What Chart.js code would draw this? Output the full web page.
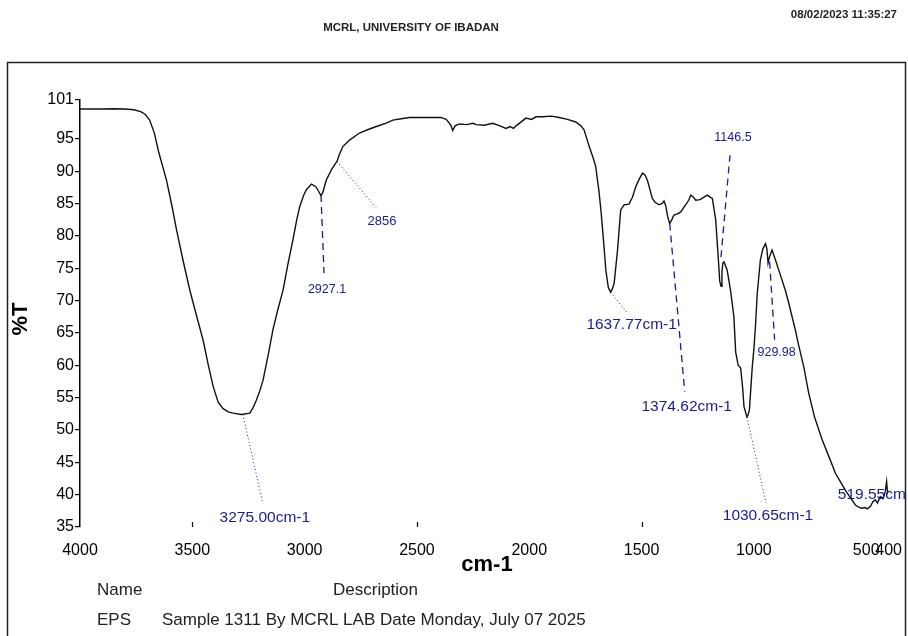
<!DOCTYPE html>
<html>
<head>
<meta charset="utf-8">
<script src="https://cdn.jsdelivr.net/npm/chart.js@4"></script>
<style>
  html, body { margin: 0; padding: 0; background: #fff; }
  canvas { display: block; }
</style>
</head>
<body>
<canvas id="irChart" width="908" height="636"></canvas>
<script>
// FTIR spectrum (wavenumber in cm-1, transmittance in %T)
var wavenumber = [
  4000, 3950, 3900, 3850, 3800, 3760, 3730, 3710, 3690, 3670, 3650, 3630, 3615, 3590, 3570,
  3540, 3511, 3480, 3452, 3430, 3407, 3385, 3363, 3340, 3319, 3281, 3244, 3230, 3215, 3200,
  3185, 3160, 3141, 3120, 3096, 3075, 3052, 3035, 3022, 3005, 2993, 2970, 2950, 2938, 2927,
  2918, 2904, 2881, 2866, 2856, 2845, 2830, 2800, 2756, 2720, 2681, 2640, 2607, 2570, 2533,
  2480, 2430, 2393, 2370, 2355, 2348, 2341, 2330, 2311, 2280, 2250, 2237, 2200, 2163, 2130,
  2104, 2085, 2070, 2059, 2040, 2015, 1990, 1970, 1941, 1900, 1867, 1830, 1793, 1770, 1756,
  1733, 1715, 1704, 1690, 1681, 1670, 1659, 1648, 1638, 1630, 1622, 1607, 1593, 1578, 1556,
  1540, 1526, 1510, 1496, 1485, 1474, 1460, 1452, 1440, 1422, 1408, 1400, 1392, 1384, 1375,
  1368, 1356, 1340, 1326, 1304, 1290, 1281, 1270, 1259, 1240, 1222, 1207, 1195, 1185, 1170,
  1158, 1152, 1146, 1142, 1138, 1133, 1119, 1104, 1089, 1081, 1075, 1070, 1059, 1050, 1044,
  1031, 1026, 1020, 1007, 1000, 993, 985, 971, 960, 948, 942, 937, 930, 919, 905,
  889, 875, 860, 844, 830, 815, 800, 778, 756, 730, 696, 665, 637, 615, 593,
  570, 548, 530, 519, 505, 495, 481, 470, 459, 450, 437, 425, 415, 409, 405, 400
];
var transmittance = [
  99.6, 99.6, 99.6, 99.65, 99.6, 99.5, 99.2, 98.8, 97.9, 96.0, 93.0, 90.5, 88.6, 84.5, 80.9,
  76.0, 71.6, 67.5, 63.9, 60.2, 56.7, 54.3, 53.3, 52.8, 52.6, 52.4, 52.6, 53.4, 54.6, 56.0,
  57.7, 62.0, 65.5, 68.5, 71.6, 75.5, 79.4, 82.5, 84.5, 86.2, 87.1, 88.0, 87.6, 86.9, 86.2,
  86.8, 88.6, 90.2, 91.0, 91.5, 92.6, 93.8, 94.8, 95.9, 96.4, 96.9, 97.4, 97.9, 98.1, 98.3,
  98.3, 98.3, 98.3, 98.0, 97.4, 97.0, 96.3, 97.0, 97.3, 97.2, 97.4, 97.2, 97.1, 97.4, 97.0,
  96.6, 96.9, 96.6, 97.0, 97.5, 98.2, 98.0, 98.4, 98.4, 98.5, 98.3, 98.0, 97.6, 97.0, 96.4,
  93.8, 92.0, 90.7, 87.0, 84.0, 79.5, 74.7, 72.0, 71.3, 71.8, 72.7, 77.8, 84.0, 84.8, 84.9,
  86.0, 87.6, 88.8, 89.7, 89.4, 88.6, 86.8, 85.8, 85.2, 84.8, 85.0, 85.4, 84.6, 83.0, 81.9,
  82.3, 83.2, 83.4, 83.7, 84.8, 85.5, 86.3, 86.0, 85.5, 85.6, 86.0, 86.3, 86.0, 85.8, 82.5,
  76.3, 73.0, 72.2, 74.5, 75.8, 76.0, 74.7, 71.6, 67.5, 62.0, 61.0, 60.0, 59.6, 56.5, 53.6,
  52.0, 52.3, 53.1, 59.8, 62.5, 66.0, 71.1, 76.3, 78.0, 78.8, 78.0, 75.8, 76.8, 77.8, 76.4,
  74.7, 73.2, 71.6, 69.5, 67.5, 65.4, 63.0, 59.8, 55.7, 52.0, 48.5, 45.8, 43.3, 42.0, 40.7,
  39.5, 38.4, 38.0, 37.9, 38.0, 37.8, 38.2, 38.9, 39.2, 38.7, 39.7, 39.4, 40.5, 42.0, 40.3, 40.6
];

var xTicks = [4000, 3500, 3000, 2500, 2000, 1500, 1000, 500, 400];
var xMarks = [3500, 2500, 1500];
var yTicks = [35, 40, 45, 50, 55, 60, 65, 70, 75, 80, 85, 90, 95, 101];

// peak picks printed on the spectrum
var peakText = ['3275.00cm-1', '2927.1', '2856', '1637.77cm-1', '1374.62cm-1', '1146.5', '1030.65cm-1', '929.98', '519.55cm-1'];
var peakWn = [3275.00, 2927.1, 2856, 1637.77, 1374.62, 1146.5, 1030.65, 929.98, 519.55];
var peakT = [52.4, 86.3, 91.5, 71.3, 81.9, 76.7, 52.0, 76.0, 37.9];

// leader line end / label offsets from the peak, in px
var peakLayout = [
  { lx: 20, ly: 89,   tx: 22, ty: 103,  line: 'dot',  size: 15.5 },
  { lx: 3,  ly: 78,   tx: 6,  ty: 94,   line: 'dash', size: 12.5 },
  { lx: 39, ly: 46,   tx: 45, ty: 60,   line: 'dot',  size: 13 },
  { lx: 16, ly: 20,   tx: 21, ty: 33,   line: 'dot',  size: 15.5 },
  { lx: 15, ly: 168,  tx: 17, ty: 183,  line: 'dash', size: 15.5 },
  { lx: 9,  ly: -102, tx: 12, ty: -120, line: 'dash', size: 12.5 },
  { lx: 19, ly: 86,   tx: 21, ty: 99,   line: 'dot',  size: 15.5 },
  { lx: 5,  ly: 78,   tx: 7,  ty: 91,   line: 'dash', size: 12.5 },
  { lx: 0,  ly: 0,    tx: -24, ty: -14, line: null,   size: 15.5, align: 'left' }
];

var BLUE = '#1a1a96';

var pagePlugin = {
  id: 'pagePlugin',
  afterDraw: function(chart) {
    var c = chart.ctx;
    var xs = chart.scales.x, ys = chart.scales.y;
    c.save();

    // frame round the plot
    c.strokeStyle = '#222';
    c.lineWidth = 1.5;
    c.strokeRect(7.5, 62.5, 898, 620);

    // header
    c.fillStyle = '#222';
    c.textBaseline = 'middle';
    c.font = 'bold 11.5px Arial';
    c.textAlign = 'center';
    c.fillText('MCRL, UNIVERSITY OF IBADAN', 411, 28);
    c.textAlign = 'right';
    c.fillText('08/02/2023 11:35:27', 897, 15);

    // axis titles
    c.fillStyle = '#000';
    c.font = 'bold 22px Arial';
    c.textAlign = 'center';
    c.fillText('cm-1', 487, 565);
    c.save();
    c.translate(21, 319);
    c.rotate(-Math.PI / 2);
    c.fillText('%T', 0, 0);
    c.restore();

    // small inward marks on the bottom axis
    c.strokeStyle = '#000';
    c.lineWidth = 1.2;
    xMarks.forEach(function(v) {
      var px = Math.round(xs.getPixelForValue(v)) + 0.5;
      c.beginPath();
      c.moveTo(px, ys.bottom);
      c.lineTo(px, ys.bottom - 5);
      c.stroke();
    });

    // sample table under the plot
    c.fillStyle = '#222';
    c.font = '17px Arial';
    c.textAlign = 'left';
    c.fillText('Name', 97, 590);
    c.fillText('Description', 333, 590);
    c.fillText('EPS', 97, 620);
    c.fillText('Sample 1311 By MCRL LAB Date Monday, July 07 2025', 162, 620);

    // peak labels
    c.beginPath();
    c.rect(8, 63, 897, 573);
    c.clip();
    peakWn.forEach(function(w, i) {
      var L = peakLayout[i];
      var px = xs.getPixelForValue(w);
      var py = ys.getPixelForValue(peakT[i]);
      if (L.line) {
        c.strokeStyle = BLUE;
        c.lineWidth = L.line === 'dot' ? 1 : 1.3;
        c.setLineDash(L.line === 'dot' ? [1, 2.5] : [7, 5]);
        c.beginPath();
        c.moveTo(px, py);
        c.lineTo(px + L.lx, py + L.ly);
        c.stroke();
        c.setLineDash([]);
      }
      c.fillStyle = BLUE;
      c.font = L.size + 'px Arial';
      c.textAlign = L.align || 'center';
      c.fillText(peakText[i], px + L.tx, py + L.ty);
    });

    c.restore();
  }
};

var ctx = document.getElementById('irChart').getContext('2d');
var irChart = new Chart(ctx, {
  type: 'line',
  data: {
    datasets: [{
      label: 'EPS',
      data: wavenumber.map(function(w, i) { return { x: w, y: transmittance[i] }; }),
      borderColor: '#111',
      borderWidth: 1.4,
      pointRadius: 0,
      tension: 0,
      fill: false
    }]
  },
  options: {
    responsive: false,
    animation: false,
    layout: { padding: { top: 100, right: 18, bottom: 0, left: 0 } },
    plugins: {
      legend: { display: false },
      tooltip: { enabled: false }
    },
    scales: {
      x: {
        type: 'linear',
        reverse: true,
        min: 400,
        max: 4000,
        afterBuildTicks: function(s) { s.ticks = xTicks.map(function(v) { return { value: v }; }); },
        afterFit: function(s) { s.height = 109; },
        grid: { display: false },
        border: { display: false },
        ticks: {
          autoSkip: false,
          maxRotation: 0,
          padding: 6,
          color: '#000',
          font: { family: 'Arial', size: 16 },
          callback: function(v) { return String(v); }
        }
      },
      y: {
        min: 35,
        max: 101,
        afterBuildTicks: function(s) { s.ticks = yTicks.map(function(v) { return { value: v }; }); },
        afterFit: function(s) { s.width = 80; },
        grid: { drawOnChartArea: false, tickLength: 5, color: '#000', lineWidth: 1.2 },
        border: { display: true, color: '#000', width: 1.5 },
        ticks: {
          autoSkip: false,
          padding: 1,
          color: '#000',
          font: { family: 'Arial', size: 16 },
          callback: function(v) { return String(v); }
        }
      }
    }
  },
  plugins: [pagePlugin]
});
</script>
</body>
</html>
